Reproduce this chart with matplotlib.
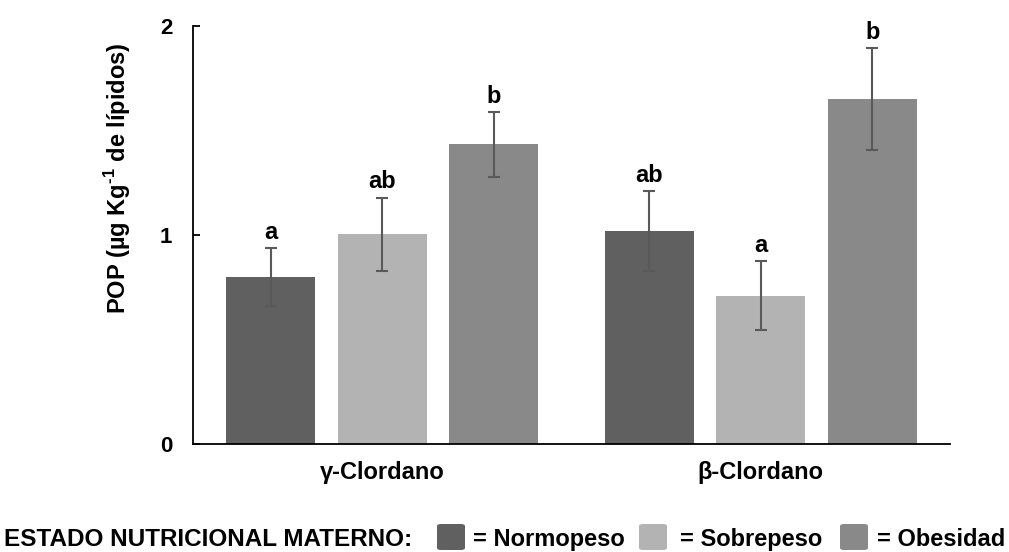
import numpy as np
import matplotlib

matplotlib.use("Agg")
import matplotlib.pyplot as plt
from matplotlib.patches import FancyBboxPatch

plt.rcParams["font.family"] = ["Liberation Sans", "DejaVu Sans"]
plt.rcParams["font.weight"] = "bold"
plt.rcParams["mathtext.fontset"] = "custom"
plt.rcParams["mathtext.rm"] = "Liberation Sans"
plt.rcParams["mathtext.bf"] = "Liberation Sans:bold"

compounds = ["γ-Clordano", "β-Clordano"]
groups = ["Normopeso", "Sobrepeso", "Obesidad"]
colors = ["#606060", "#b3b3b3", "#898989"]

# mean and error per nutritional group, one entry per compound
normopeso = [0.80, 1.02]
sobrepeso = [1.005, 0.71]
obesidad = [1.435, 1.65]
err_normopeso = [0.14, 0.19]
err_sobrepeso = [0.175, 0.165]
err_obesidad = [0.155, 0.245]
letters_normopeso = ["a", "ab"]
letters_sobrepeso = ["ab", "a"]
letters_obesidad = ["b", "b"]

means = [normopeso, sobrepeso, obesidad]
errors = [err_normopeso, err_sobrepeso, err_obesidad]
letters = [letters_normopeso, letters_sobrepeso, letters_obesidad]

fig = plt.figure(figsize=(10.09, 5.52), dpi=100)
ax = fig.add_axes([193 / 1009, 1 - 444.3 / 552, 757 / 1009, 418.3 / 552])

x = np.arange(len(compounds))
step = 0.2946
width = 0.234
for i, (vals, errs, labs) in enumerate(zip(means, errors, letters)):
    pos = x + (i - 1) * step
    ax.bar(pos, vals, width, color=colors[i], zorder=2)
    ax.errorbar(pos, vals, yerr=errs, fmt="none", ecolor="#595959",
                elinewidth=1.5, capsize=4, capthick=1.5, zorder=3)
    for px, v, e, lab in zip(pos, vals, errs, labs):
        ax.annotate(lab, (px, v + e), xytext=(0, 3), textcoords="offset points",
                    ha="center", va="bottom", fontsize=17, fontweight="bold")

ax.set_xlim(-0.5, 1.5)
ax.set_ylim(0, 2)
ax.set_yticks([0, 1, 2])
ax.set_xticks(x)
ax.set_xticklabels(compounds)
ax.tick_params(axis="y", direction="in", length=5, width=1.3, pad=15, labelsize=16)
ax.tick_params(axis="x", length=0, pad=12, labelsize=17)
for s in ["top", "right"]:
    ax.spines[s].set_visible(False)
for s in ["left", "bottom"]:
    ax.spines[s].set_linewidth(1.3)

fig.text(118 / 1009, 1 - 178 / 552, "POP (µg Kg$^{\\mathbf{\u20101}}$ de lípidos)",
         rotation=90, ha="center", va="center", fontsize=17, fontweight="bold")

# legend row along the bottom edge
base = 1 - 546 / 552
fig.text(4 / 1009, base, "ESTADO NUTRICIONAL MATERNO:", ha="left", va="baseline",
         fontsize=17.5, fontweight="bold")
box_x = [437, 639, 840]
text_x = [473, 680, 877]
for bx, tx, c, g in zip(box_x, text_x, colors, groups):
    fig.patches.append(FancyBboxPatch(
        (bx / 1009, 1 - 550 / 552), 28 / 1009, 26 / 552,
        boxstyle="round,pad=0,rounding_size=0.004", transform=fig.transFigure,
        facecolor=c, edgecolor="none", figure=fig))
    fig.text(tx / 1009, base, "= " + g, ha="left", va="baseline",
             fontsize=17, fontweight="bold")

fig.savefig("out.png", dpi=100)
